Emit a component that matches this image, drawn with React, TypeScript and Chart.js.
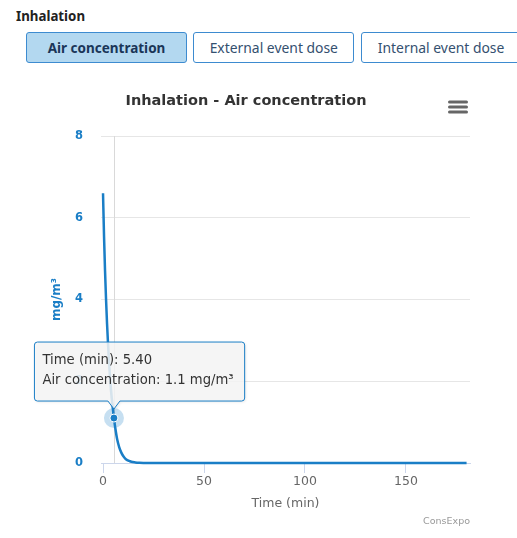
import React, { useEffect, useRef } from 'react';
import { Chart, registerables } from 'chart.js';

Chart.register(...registerables);

const pageHeading = 'Inhalation';
const tabs = ['Air concentration', 'External event dose', 'Internal event dose'];
const chartTitle = 'Inhalation - Air concentration';
const xTitle = 'Time (min)';
const yTitle = 'mg/m³';
const seriesName = 'Air concentration';
const unit = 'mg/m³';
const creditText = 'ConsExpo';

const timeMin = [0, 0.5, 1, 1.5, 2, 2.5, 3, 3.5, 4, 4.5, 5, 5.4, 6, 7, 8, 9, 10, 11, 12, 13, 14, 16, 18, 20, 25, 30, 40, 60, 80, 100, 120, 140, 160, 180];
const airConc = [6.6, 5.55, 4.7, 4.0, 3.4, 2.9, 2.45, 2.08, 1.76, 1.5, 1.27, 1.1, 0.88, 0.58, 0.39, 0.26, 0.17, 0.11, 0.07, 0.05, 0.03, 0.015, 0.007, 0.003, 0.001, 0, 0, 0, 0, 0, 0, 0, 0, 0];
const xTicks = [0, 50, 100, 150];
const yTicks = [0, 2, 4, 6, 8];
const xRange = [-1, 181.7];
const yRange = [0, 8];
const activeIndex = 11;

const BLUE = '#1a7ec6';
const FONT = '"DejaVu Sans", Verdana, sans-serif';

const overlayPlugin = {
  id: 'overlay',
  beforeDatasetsDraw(chart: any) {
    const { ctx, chartArea, scales } = chart;
    const x = Math.round(scales.x.getPixelForValue(timeMin[activeIndex])) + 0.5;
    ctx.save();
    ctx.strokeStyle = '#d9d9d9';
    ctx.lineWidth = 1;
    ctx.beginPath();
    ctx.moveTo(x, chartArea.top);
    ctx.lineTo(x, chartArea.bottom);
    ctx.stroke();
    ctx.restore();
  },
  afterDatasetsDraw(chart: any) {
    const { ctx, scales } = chart;
    const px = scales.x.getPixelForValue(timeMin[activeIndex]);
    const py = scales.y.getPixelForValue(airConc[activeIndex]);
    ctx.save();
    ctx.fillStyle = 'rgba(26,126,198,0.25)';
    ctx.beginPath();
    ctx.arc(px, py, 10, 0, Math.PI * 2);
    ctx.fill();
    ctx.fillStyle = BLUE;
    ctx.strokeStyle = '#ffffff';
    ctx.lineWidth = 1;
    ctx.beginPath();
    ctx.arc(px, py, 4, 0, Math.PI * 2);
    ctx.fill();
    ctx.stroke();
    ctx.restore();
  },
  afterDraw(chart: any) {
    const { ctx, scales, chartArea, height } = chart;
    const px = scales.x.getPixelForValue(timeMin[activeIndex]);
    const py = scales.y.getPixelForValue(airConc[activeIndex]);
    ctx.save();
    ctx.font = `13.2px ${FONT}`;
    const lines = [
      `Time (min): ${timeMin[activeIndex].toFixed(2)}`,
      `${seriesName}: ${airConc[activeIndex]} ${unit}`,
    ];
    const w = Math.max(...lines.map((l) => ctx.measureText(l).width)) + 19;
    const h = 59;
    const bottom = py - 17;
    const top = bottom - h;
    const left = px - 79.5;
    const right = left + w;
    const r = 3;
    const tipY = py - 9;
    ctx.beginPath();
    ctx.moveTo(left + r, top);
    ctx.lineTo(right - r, top);
    ctx.arcTo(right, top, right, top + r, r);
    ctx.lineTo(right, bottom - r);
    ctx.arcTo(right, bottom, right - r, bottom, r);
    ctx.lineTo(px + 6, bottom);
    ctx.lineTo(px, tipY);
    ctx.lineTo(px - 6, bottom);
    ctx.lineTo(left + r, bottom);
    ctx.arcTo(left, bottom, left, bottom - r, r);
    ctx.lineTo(left, top + r);
    ctx.arcTo(left, top, left + r, top, r);
    ctx.closePath();
    ctx.shadowColor = 'rgba(0,0,0,0.12)';
    ctx.shadowBlur = 3;
    ctx.shadowOffsetX = 1;
    ctx.shadowOffsetY = 1;
    ctx.fillStyle = 'rgba(247,247,247,0.85)';
    ctx.fill();
    ctx.shadowColor = 'transparent';
    ctx.strokeStyle = BLUE;
    ctx.lineWidth = 1;
    ctx.stroke();
    ctx.fillStyle = '#333333';
    ctx.textBaseline = 'middle';
    ctx.textAlign = 'left';
    ctx.fillText(lines[0], left + 8, top + 19);
    ctx.fillText(lines[1], left + 8, top + 39);

    // credits
    ctx.font = `9.5px ${FONT}`;
    ctx.fillStyle = '#999999';
    ctx.textAlign = 'right';
    ctx.fillText(creditText, chartArea.right, height - 16.3);

    // menu icon
    ctx.strokeStyle = '#666666';
    ctx.lineWidth = 3;
    ctx.lineCap = 'round';
    for (let k = 0; k < 3; k++) {
      const y = 22 + k * 5;
      ctx.beginPath();
      ctx.moveTo(chartArea.right - 20.5, y);
      ctx.lineTo(chartArea.right - 3.5, y);
      ctx.stroke();
    }
    ctx.restore();
  },
};

export default function App() {
  const ref = useRef<HTMLCanvasElement>(null);
  useEffect(() => {
    if (!ref.current) return;
    const chart = new Chart(ref.current, {
      type: 'line',
      data: {
        datasets: [
          {
            label: seriesName,
            data: timeMin.map((t, i) => ({ x: t, y: airConc[i] })),
            borderColor: BLUE,
            backgroundColor: BLUE,
            borderWidth: 2.5,
            pointRadius: 0,
            cubicInterpolationMode: 'monotone',
            fill: false,
            clip: false as any,
          },
        ],
      },
      options: {
        animation: false,
        responsive: true,
        maintainAspectRatio: false,
        events: [],
        layout: { padding: { left: 22, right: 47, top: 0, bottom: 0 } },
        plugins: {
          legend: { display: false },
          tooltip: { enabled: false },
          title: {
            display: true,
            text: chartTitle,
            color: '#333333',
            font: { family: FONT, size: 14.5, weight: 'bold', lineHeight: 1.2 },
            padding: { top: 12.8, bottom: 25.8 },
          },
        },
        scales: {
          x: {
            type: 'linear',
            min: xRange[0],
            max: xRange[1],
            afterBuildTicks: (s: any) => {
              s.ticks = xTicks.map((v) => ({ value: v }));
            },
            afterFit: (s: any) => {
              s.height = 75;
            },
            ticks: {
              color: '#666666',
              font: { family: FONT, size: 12.5 },
              padding: 1.5,
              maxRotation: 0,
              autoSkip: false,
            },
            grid: { drawOnChartArea: false, drawTicks: true, tickLength: 10, color: '#ccd6eb' },
            border: { display: true, color: '#ccd6eb', width: 1 },
            title: {
              display: true,
              text: xTitle,
              color: '#666666',
              font: { family: FONT, size: 12.5 },
              padding: { top: 0, bottom: 26.8 },
            },
          },
          y: {
            type: 'linear',
            min: yRange[0],
            max: yRange[1],
            afterBuildTicks: (s: any) => {
              s.ticks = yTicks.map((v) => ({ value: v }));
            },
            afterFit: (s: any) => {
              s.width = 79;
            },
            ticks: {
              color: BLUE,
              font: { family: FONT, size: 11.5, weight: 'bold' },
              padding: 18,
            },
            grid: { color: '#e6e6e6', drawTicks: false, lineWidth: 1 },
            border: { display: false },
            title: {
              display: true,
              text: yTitle,
              color: BLUE,
              font: { family: FONT, size: 12, weight: 'bold' },
              padding: { top: 27.8, bottom: 0 },
            },
          },
        },
      },
      plugins: [overlayPlugin],
    } as any);
    return () => chart.destroy();
  }, []);

  const uiFont = '"Noto Sans", "Open Sans", sans-serif';
  return (
    <div style={{ position: 'absolute', left: 0, top: 0, width: 517, height: 538, background: '#ffffff', overflow: 'hidden' }}>
      <div style={{ position: 'absolute', left: 16, top: 7, fontFamily: uiFont, fontWeight: 700, fontSize: 13.3, lineHeight: '18px', color: '#222222' }}>
        {pageHeading}
      </div>
      {tabs.map((t, i) => (
        <div
          key={t}
          style={{
            position: 'absolute',
            left: 26 + i * 167.3,
            top: 32,
            width: 161,
            height: 31,
            boxSizing: 'border-box',
            border: '1px solid #3d8bd0',
            borderRadius: 3,
            background: i === 0 ? '#b3d8f0' : '#ffffff',
            color: i === 0 ? '#1a3658' : '#34506f',
            fontFamily: uiFont,
            fontWeight: i === 0 ? 700 : 400,
            fontSize: i === 0 ? 13.5 : 13.9,
            display: 'flex',
            alignItems: 'center',
            justifyContent: 'center',
            whiteSpace: 'nowrap',
          }}
        >
          {t}
        </div>
      ))}
      <div style={{ position: 'absolute', left: 0, top: 80, width: 517, height: 458 }}>
        <canvas ref={ref} />
      </div>
    </div>
  );
}
